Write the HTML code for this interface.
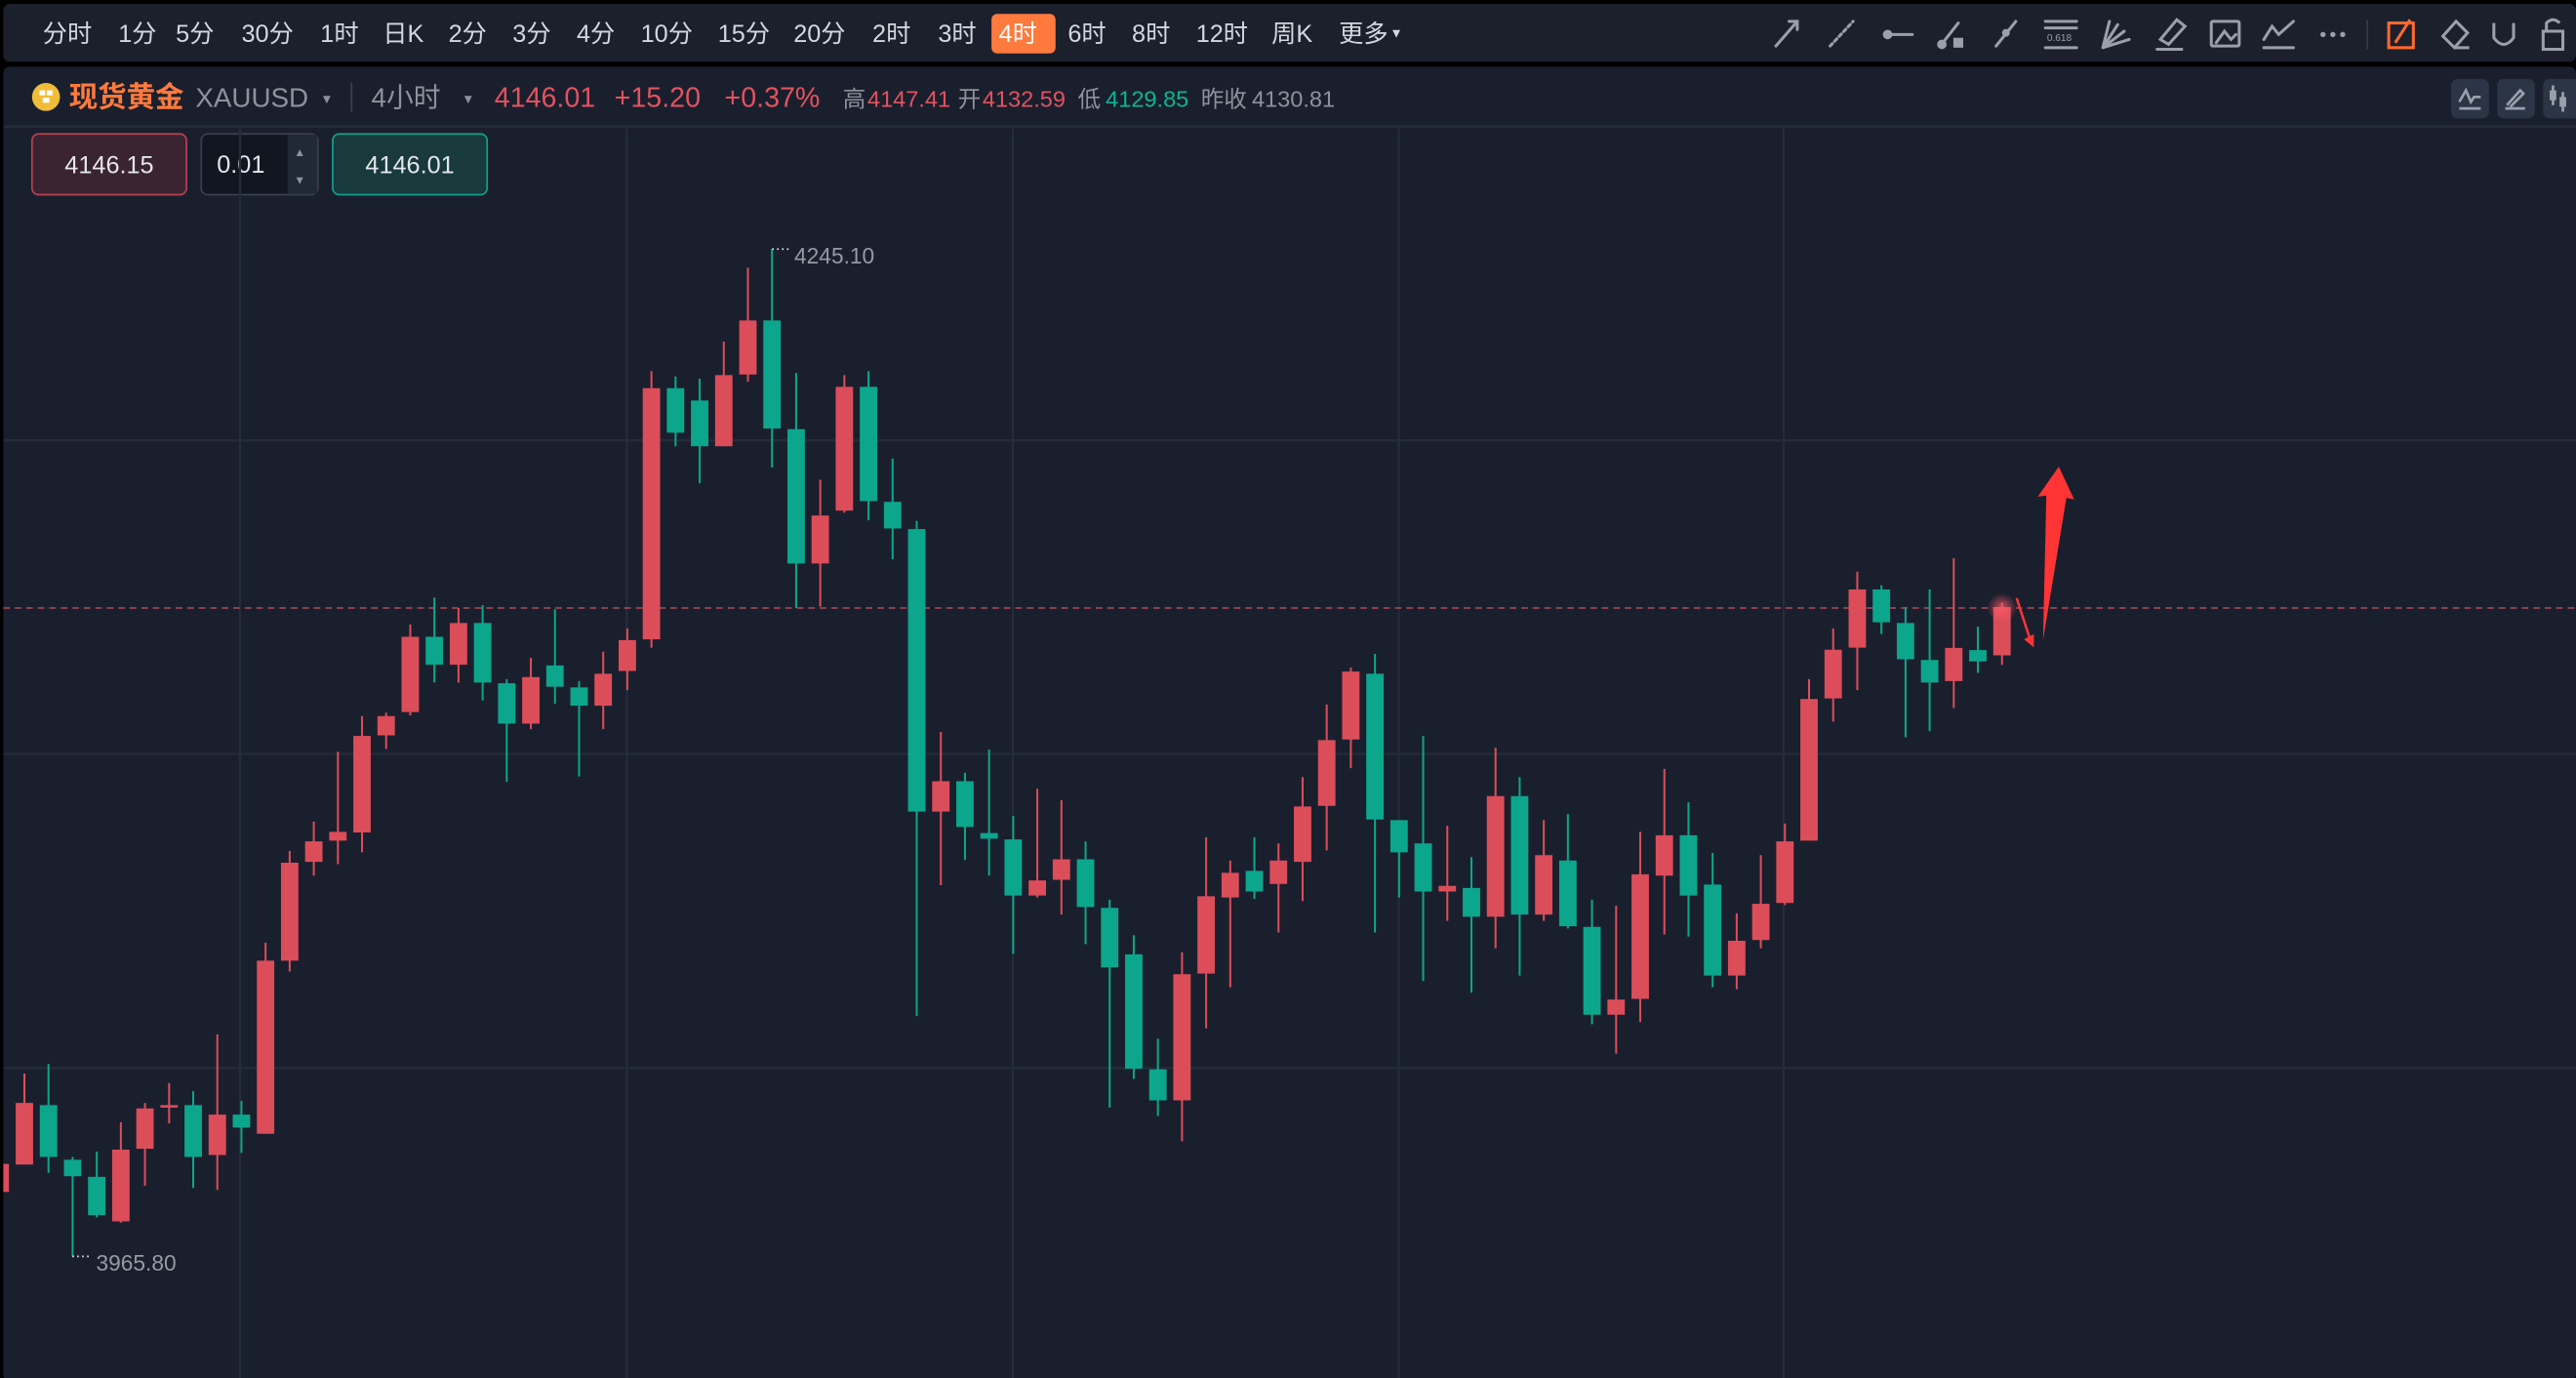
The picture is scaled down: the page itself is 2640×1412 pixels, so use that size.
<!DOCTYPE html>
<html><head><meta charset="utf-8">
<style>
html,body{margin:0;padding:0;background:#000;width:2640px;height:1412px;overflow:hidden}
svg{display:block}
text{font-family:"Liberation Sans","Noto Sans CJK SC",sans-serif}
</style></head>
<body>
<svg width="2640" height="1412" viewBox="0 0 1568 838.6" preserveAspectRatio="none" xmlns="http://www.w3.org/2000/svg">
<defs>
<radialGradient id="glow"><stop offset="0" stop-color="#ff5a66" stop-opacity="0.8"/><stop offset="1" stop-color="#ff5a66" stop-opacity="0"/></radialGradient>
</defs>
<rect x="0" y="0" width="1568" height="838.6" fill="#000"/>
<rect x="2" y="2.4" width="1566" height="35.2" rx="4" fill="#1b202c"/>
<rect x="2" y="40.6" width="1566" height="800" rx="4" fill="#1a1f2d"/>
<line x1="2" y1="77" x2="1568" y2="77" stroke="#252c3a" stroke-width="1.5"/>
<g fill="#d4d7de" font-size="15">
<text x="26" y="25.5">分时</text><text x="72" y="25.5">1分</text><text x="107" y="25.5">5分</text>
<text x="147" y="25.5">30分</text><text x="195" y="25.5">1时</text><text x="233" y="25.5">日K</text>
<text x="273" y="25.5">2分</text><text x="312" y="25.5">3分</text><text x="351" y="25.5">4分</text>
<text x="390" y="25.5">10分</text><text x="437" y="25.5">15分</text><text x="483" y="25.5">20分</text>
<text x="531" y="25.5">2时</text><text x="571" y="25.5">3时</text>
<rect x="603.5" y="8.5" width="39" height="24" rx="3.5" fill="#ff7a3d"/>
<text x="608" y="25.5" fill="#fff">4时</text>
<text x="650" y="25.5">6时</text><text x="689" y="25.5">8时</text><text x="728" y="25.5">12时</text>
<text x="774" y="25.5">周K</text><text x="815" y="25.5">更多</text><text x="846" y="23" font-size="8">▼</text>
</g>
<g stroke="#9aa0ab" stroke-width="1.8" fill="none" stroke-linecap="round">
<path d="M1081 28 L1094 13 M1089 13 L1094 13 L1094 18"/>
<path d="M1114 28 L1128 13" stroke-dasharray="2 2"/>
<path d="M1147 21 L1164 21"/><circle cx="1149" cy="21" r="2" fill="#9aa0ab"/>
<path d="M1181 28 L1192 14"/><circle cx="1182" cy="27" r="2" fill="#9aa0ab"/><rect x="1189" y="23" width="6" height="6" fill="#9aa0ab" stroke="none"/>
<path d="M1215 28 L1227 13"/><circle cx="1221" cy="20" r="1.5" fill="#9aa0ab"/>
<path d="M1245 13 L1264 13 M1245 17 L1264 17 M1245 29 L1264 29"/>
<path d="M1280 29 L1284 13 M1280 29 L1289 15 M1280 29 L1293 19 M1280 29 L1296 24"/>
<path d="M1315 24 L1325 12 L1330 16 L1320 27 Z M1313 30 L1328 30"/>
<rect x="1346" y="13" width="17" height="15" rx="1"/><path d="M1349 26 L1354 19 L1358 24 L1361 21"/>
<path d="M1378 24 L1383 16 L1387 21 L1396 13 M1378 29 L1396 29" /></g>
<text x="1246" y="25" font-size="6" fill="#9aa0ab">0.618</text>
<g fill="#9aa0ab"><circle cx="1414" cy="21" r="1.6"/><circle cx="1420" cy="21" r="1.6"/><circle cx="1426" cy="21" r="1.6"/></g>
<line x1="1441" y1="12" x2="1441" y2="30" stroke="#333a48"/>
<g fill="none" stroke-width="1.8">
<rect x="1454" y="14" width="15" height="15" stroke="#ff6a2d"/><path d="M1458 26 L1467 12" stroke="#ff6a2d"/>
<path d="M1487 22 L1495 13 L1502 20 L1494 29 Z M1494 29 L1503 29" stroke="#9aa0ab"/>
<path d="M1518 14 L1518 23 Q1524 31 1530 23 L1530 14" stroke="#9aa0ab"/>
<rect x="1548" y="19" width="12" height="11" stroke="#9aa0ab"/><path d="M1550 19 L1550 14 Q1554 10 1558 14" stroke="#9aa0ab"/>
</g>
<circle cx="28" cy="59" r="8.5" fill="#f0bd3a"/>
<rect x="24" y="55" width="3.5" height="3" fill="#fff"/><rect x="28.5" y="55" width="3.5" height="3" fill="#fff"/><rect x="26" y="59.5" width="4" height="3" fill="#fff"/>
<text x="42" y="65" font-size="17.5" font-weight="bold" fill="#ff7a3d">现货黄金</text>
<text x="119" y="65" font-size="16.5" fill="#8d929c">XAUUSD</text>
<text x="195" y="63" font-size="8" fill="#8d929c">▼</text>
<line x1="214" y1="50" x2="214" y2="68" stroke="#3a4150"/>
<text x="226" y="65" font-size="16.5" fill="#8d929c">4小时</text>
<text x="281" y="63" font-size="8" fill="#8d929c">▼</text>
<g font-size="17" fill="#e25260"><text x="301" y="65">4146.01</text><text x="374" y="65">+15.20</text><text x="441" y="65">+0.37%</text></g>
<g font-size="14" fill="#8d929c"><text x="513" y="65">高</text><text x="583" y="65">开</text><text x="656" y="65">低</text><text x="731" y="65">昨收</text><text x="762" y="65">4130.81</text></g>
<g font-size="14" fill="#e25260"><text x="528" y="65">4147.41</text><text x="598" y="65">4132.59</text></g>
<text x="673" y="65" font-size="14" fill="#0fb393">4129.85</text>
<g fill="#2c3546"><rect x="1492" y="48" width="23" height="24" rx="4"/><rect x="1520" y="48" width="23" height="24" rx="4"/><rect x="1548" y="48" width="23" height="24" rx="4"/></g>
<g stroke="#9aa0ab" stroke-width="1.6" fill="none"><path d="M1497 62 L1501 55 L1504 62 L1506 59 L1510 59 M1497 66 L1510 66"/><path d="M1525 66 L1537 66 M1526 64 L1534 55 L1536 57 L1528 65"/><path d="M1554 52 L1554 64 M1560 56 L1560 68"/></g>
<rect x="1552" y="55" width="4" height="6" fill="#9aa0ab"/><rect x="1558" y="59" width="4" height="6" fill="#9aa0ab"/>
<rect x="19.5" y="81.5" width="94" height="37" rx="4" fill="#3a2431" stroke="#b9424f"/>
<text x="66.5" y="105.5" font-size="15" fill="#e4e6ea" text-anchor="middle">4146.15</text>
<rect x="122.5" y="81.5" width="71" height="37" rx="4" fill="#121620" stroke="#394050"/>
<rect x="175" y="82" width="18" height="36" fill="#222936"/>
<text x="132" y="105" font-size="15" fill="#e4e6ea">0.01</text>
<text x="179" y="95" font-size="7" fill="#8d929c">▲</text><text x="179" y="112" font-size="7" fill="#8d929c">▼</text>
<rect x="202.5" y="81.5" width="94" height="37" rx="4" fill="#183a3c" stroke="#11a08a"/>
<text x="249.5" y="105.5" font-size="15" fill="#e4e6ea" text-anchor="middle">4146.01</text>
<g stroke="#252c3a" stroke-width="1.3">
<line x1="146.1" y1="78" x2="146.1" y2="839"/><line x1="381.5" y1="78" x2="381.5" y2="839"/><line x1="616.5" y1="78" x2="616.5" y2="839"/><line x1="851.4" y1="78" x2="851.4" y2="839"/><line x1="1085.7" y1="78" x2="1085.7" y2="839"/>
<line x1="2" y1="268" x2="1568" y2="268"/><line x1="2" y1="458.8" x2="1568" y2="458.8"/><line x1="2" y1="650" x2="1568" y2="650"/>
</g>
<line x1="2" y1="370" x2="1568" y2="370" stroke="#9c4553" stroke-width="1" stroke-dasharray="4 3"/>
<!-- red candles -->
<g stroke="#dc4d5a" fill="none">
<path stroke-width="1.2" d="M14.85 653.3V708.7M73.57 682.9V744.1M88.25 671.2V721.6M102.93 659.1V683.7M132.29 629.5V724.1M161.65 573.7V690M176.33 517.9V591.2M191.01 500V532.9M205.69 457.5V525.8M220.37 435.8V518.7M235.05 433.7V455.8M249.73 380V435.4M279.09 370V415.4M323.13 400.4V443.7M367.17 396.6V443.7M381.85 382.5V420M396.53 225.8V394.1M440.57 207.9V271.6M455.25 162.9V232.4M499.29 292V369.1M513.97 228.3V312M572.69 445.4V538.7M631.41 480V546.2M646.09 487V556.6M719.49 579.5V694.5M734.17 509.5V625.8M748.85 523.7V600.8M778.21 513.3V567.5M792.89 472.9V548.3M807.57 428.7V517.5M822.25 406.2V467.5M880.97 502.5V560.4M910.33 455V577.1M939.69 499.1V560.4M983.73 551.2V641.2M998.41 506.2V622M1013.09 467.9V568.7M1057.13 555.8V602M1071.81 520.4V577.1M1086.49 501.2V550.8M1101.17 413.3V511.6M1115.85 382.5V439.1M1130.53 347.9V420M1189.25 339.7V430.9M1218.61 366.7V404.7"/>
<path stroke-width="10.6" d="M0.17 708.3V725.4M14.85 671.2V708.7M73.57 699.6V743.3M88.25 674.5V699.1M102.93 672.5V674.1M132.29 678.3V702.9M161.65 584.6V690M176.33 525V584.6M191.01 512V524.5M205.69 506.2V511.6M220.37 447.9V506.6M235.05 435.8V447.5M249.73 387.5V433.3M279.09 379.1V404.5M323.13 412V440.4M367.17 410V429.5M381.85 389.5V408.3M396.53 236.2V389.1M440.57 228.3V271.6M455.25 195V227.9M499.29 313.7V342.9M513.97 235.4V310.8M572.69 475.4V493.9M631.41 535.8V545M646.09 522.9V535.4M719.49 592.9V669.6M734.17 545.4V592.5M748.85 531.2V546.2M778.21 523.7V537.9M792.89 490.8V524.5M807.57 450.4V490.4M822.25 408.7V450M880.97 539.1V542.5M910.33 484.5V557.9M939.69 520.4V556.6M983.73 608.3V617.5M998.41 532.1V607.9M1013.09 508.3V532.9M1057.13 572.5V593.7M1071.81 550V572.1M1086.49 512V549.5M1101.17 425.4V511.6M1115.85 395.4V425M1130.53 358.7V394.1M1189.25 394.3V414.5M1218.61 369.4V398.8"/>
</g>
<!-- green candles -->
<g stroke="#0ca68c" fill="none">
<path stroke-width="1.2" d="M29.53 647.5V713.7M44.21 704.1V764.6M58.89 700.8V740.8M117.61 664.1V722.9M146.97 670V701.6M264.41 363.7V415.4M293.77 368.3V426.2M308.45 413.3V475.8M337.81 370.8V428.3M352.49 414.5V472.5M411.21 229.1V271.6M425.89 230.4V294.1M469.93 151.6V284.5M484.61 227V370M528.65 225.8V316.6M543.33 279.1V340.4M558.01 317V618.3M587.37 470.4V523.3M602.05 456.2V532.9M616.73 496.6V580.4M660.77 512V574.5M675.45 547.5V674.1M690.13 569.1V656.6M704.81 632.1V679.1M763.53 509.5V547M836.93 397.9V567.5M851.61 499.1V546.2M866.29 447.9V597M895.65 521.6V604.1M925.01 472.9V593.7M954.37 495.4V565M969.05 547.5V623.3M1027.77 488.3V570M1042.45 519.1V600.8M1145.21 356.2V385.8M1159.89 369.5V448.7M1174.57 358.7V445M1203.93 381.3V409.4"/>
<path stroke-width="10.6" d="M29.53 672.5V704.1M44.21 705.8V715.8M58.89 716.2V739.5M117.61 672.5V704.1M146.97 678.3V686.2M264.41 387.5V404.5M293.77 379.1V415.4M308.45 415.8V440.4M337.81 405V417.9M352.49 418.3V429.5M411.21 236.2V263.3M425.89 243.7V271.6M469.93 195V260.8M484.61 261.2V342.9M528.65 235.4V305M543.33 305.4V321.6M558.01 322V493.9M587.37 475.4V503.3M602.05 507V510.4M616.73 510.8V545M660.77 522.9V552M675.45 552.5V588.7M690.13 580.8V650.4M704.81 650.8V669.6M763.53 530V542.5M836.93 410V498.7M851.61 499.1V518.7M866.29 513.3V542.5M895.65 540.4V557.9M925.01 484.5V556.6M954.37 523.7V563.7M969.05 564.1V617.5M1027.77 508.3V545M1042.45 538.3V593.7M1145.21 358.7V378.7M1159.89 379.1V401.2M1174.57 401.6V415.4M1203.93 395.6V402.5"/>
</g>
<line x1="470" y1="151.6" x2="481" y2="151.6" stroke="#dfe2e8" stroke-dasharray="1 2"/>
<text x="483.5" y="160.5" font-size="13.5" fill="#959aa5">4245.10</text>
<line x1="44" y1="764.6" x2="56" y2="764.6" stroke="#dfe2e8" stroke-dasharray="1 2"/>
<text x="58.5" y="773.3" font-size="13.5" fill="#959aa5">3965.80</text>
<circle cx="1218.6" cy="370" r="9" fill="url(#glow)"/>
<path d="M1227.5 364 L1236 390" stroke="#ff3535" stroke-width="1.5"/>
<path d="M1232 389 L1238 394 L1238 386 Z" fill="#ff3535"/>
<path d="M1243.6 389.5 L1245.6 301.5 L1240.4 302.3 L1253.2 284 L1262.5 303.9 L1257.8 303 Z" fill="#ff3535"/>
<rect x="0" y="40" width="2" height="800" fill="#000"/>
</svg>
</body></html>
